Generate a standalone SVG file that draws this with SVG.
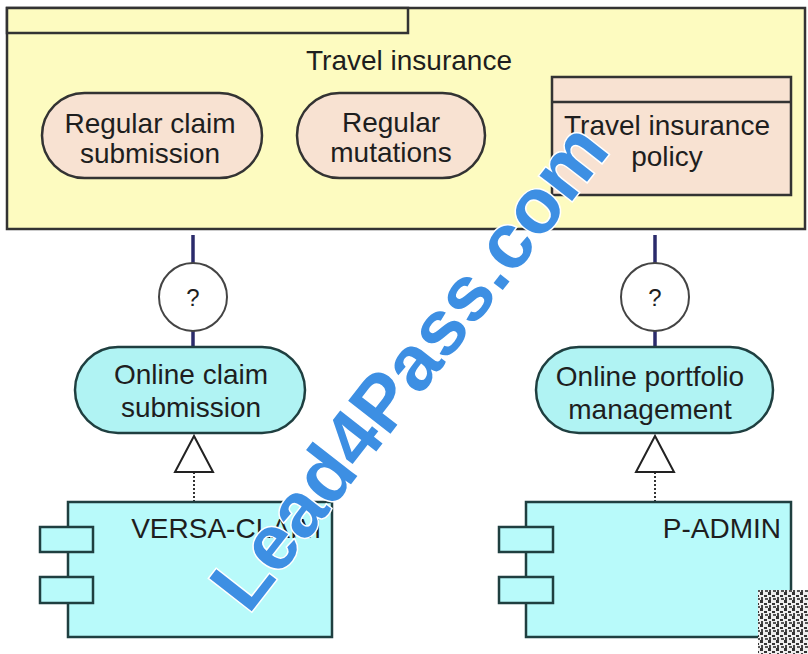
<svg xmlns="http://www.w3.org/2000/svg" width="808" height="654" viewBox="0 0 808 654">
<defs>
<style>
.t{font-family:"Liberation Sans",Arial,sans-serif;font-size:28px;fill:#1e1e1e;text-anchor:middle}
.q{font-size:24px}
.pkg{fill:#fdfbc0;stroke:#333;stroke-width:2.5}
.peach{fill:#f8e2d2;stroke:#333;stroke-width:2.5}
.cyan{fill:#b0f3f3;stroke:#1f3f40;stroke-width:2.5}
.comp{fill:#b8fafa;stroke:#1f3f40;stroke-width:2.5}
.iface{fill:#fff;stroke:#444;stroke-width:2}
.assoc{stroke:#2b2b6b;stroke-width:3.5;fill:none}
.dot{stroke:#333;stroke-width:2;stroke-dasharray:2 2;fill:none}
.tri{fill:#fff;stroke:#222;stroke-width:2}
.wm{font-family:"Liberation Sans",Arial,sans-serif;font-weight:bold;font-size:78px;fill:#3d8fe3;stroke:#fff;stroke-width:3;paint-order:stroke;text-anchor:middle}
</style>
<pattern id="qr" width="8" height="8" patternUnits="userSpaceOnUse">
<rect width="8" height="8" fill="#eee"/>
<rect x="0" y="0" width="3" height="3" fill="#333"/>
<rect x="4" y="3" width="3" height="2" fill="#333"/>
<rect x="1" y="5" width="2" height="3" fill="#444"/>
<rect x="5" y="6" width="3" height="2" fill="#555"/>
</pattern>
</defs>
<rect width="808" height="654" fill="#fff"/>

<g id="travel-insurance">
<rect class="pkg" x="7" y="8" width="798" height="221"/>
<rect class="pkg" x="7" y="8" width="401" height="25"/>
<text class="t" x="409" y="70">Travel insurance</text>
</g>

<g id="regular-claim-submission">
<rect class="peach" x="42" y="93" width="220" height="85" rx="42.5"/>
<text class="t" x="150" y="133">Regular claim</text>
<text class="t" x="150" y="163">submission</text>
</g>

<g id="regular-mutations">
<rect class="peach" x="297" y="93" width="188" height="85" rx="42.5"/>
<text class="t" x="391" y="132">Regular</text>
<text class="t" x="391" y="162">mutations</text>
</g>

<g id="travel-insurance-policy">
<rect class="peach" x="552" y="77" width="239" height="118"/>
<line x1="552" y1="102" x2="791" y2="102" stroke="#333" stroke-width="2.5"/>
<text class="t" x="667" y="135">Travel insurance</text>
<text class="t" x="667" y="166">policy</text>
</g>

<g id="connectors">
<line class="assoc" x1="193" y1="235" x2="193" y2="263"/>
<line class="assoc" x1="193" y1="331" x2="193" y2="347"/>
<line class="assoc" x1="655" y1="235" x2="655" y2="263"/>
<line class="assoc" x1="655" y1="331" x2="655" y2="347"/>
<line class="dot" x1="194" y1="472" x2="194" y2="502"/>
<polygon class="tri" points="194,436 175,472 213,472"/>
<line class="dot" x1="655" y1="472" x2="655" y2="502"/>
<polygon class="tri" points="655,436 636,472 674,472"/>
</g>

<g id="interface-left">
<circle class="iface" cx="193" cy="297" r="34"/>
<text class="t q" x="193" y="306">?</text>
</g>

<g id="interface-right">
<circle class="iface" cx="655" cy="297" r="34"/>
<text class="t q" x="655" y="306">?</text>
</g>

<g id="online-claim-submission">
<rect class="cyan" x="75" y="347" width="230" height="86" rx="43"/>
<text class="t" x="191" y="384">Online claim</text>
<text class="t" x="191" y="417">submission</text>
</g>

<g id="online-portfolio-management">
<rect class="cyan" x="536" y="347" width="237" height="86" rx="43"/>
<text class="t" x="650" y="386">Online portfolio</text>
<text class="t" x="650" y="419">management</text>
</g>

<g id="versa-claim">
<rect class="comp" x="68" y="502" width="264" height="135"/>
<rect class="comp" x="40" y="527" width="53" height="25"/>
<rect class="comp" x="40" y="577" width="53" height="26"/>
<text class="t" x="321" y="538" style="text-anchor:end">VERSA-CLAIM</text>
</g>

<g id="p-admin">
<rect class="comp" x="526" y="502" width="265" height="135"/>
<rect class="comp" x="499" y="527" width="54" height="25"/>
<rect class="comp" x="499" y="577" width="54" height="26"/>
<text class="t" x="781" y="538" style="text-anchor:end">P-ADMIN</text>
</g>

<text class="wm" transform="translate(430,383) rotate(-52)">Lead4Pass.com</text>

<rect x="758" y="590" width="50" height="64" fill="url(#qr)"/>
</svg>
